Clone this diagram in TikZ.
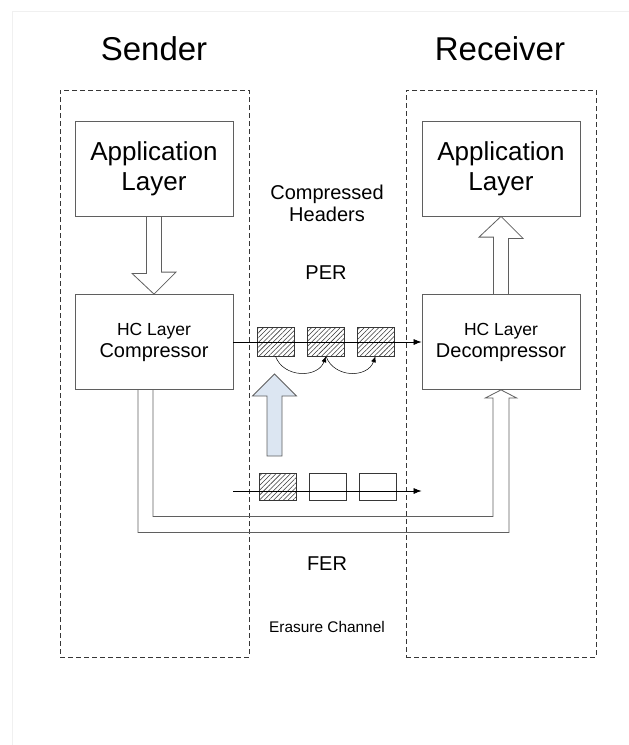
\documentclass[tikz,border=0pt]{standalone}
\usepackage{fontspec}
\setmainfont{Liberation Sans}
\usetikzlibrary{arrows.meta,patterns.meta,positioning}

\definecolor{boxgray}{RGB}{95,95,95}
\definecolor{dashgray}{RGB}{55,55,55}
\definecolor{paleblue}{RGB}{220,230,242}

\begin{document}
\begin{tikzpicture}[x=1pt, y=-1pt,
  layer/.style = {draw = boxgray, line width = 0.8pt, shape = rectangle, minimum width = 158pt, minimum height = 95pt, align = center},
  chan/.style = {draw = dashgray, line width = 0.7pt, dash pattern = on 5pt off 3pt, minimum height = 567pt},
  pkt/.style = {draw = dashgray, line width = 0.6pt, minimum width = 37pt, minimum height = 29pt, inner sep = 0pt},
  hatch/.style = {pattern = {Lines[angle=45, distance=3.4pt, line width=0.55pt]}, pattern color = dashgray},
  blockarr/.style = {draw = boxgray, line width = 0.8pt, line join = miter},
  flow/.style = {-{Latex[length=8pt, width=6pt]}, line width = 0.7pt}]
\useasboundingbox (0,0) rectangle (629,745);
\draw[gray!12] (12,745) -- (12,11) -- (629,11);

% sender and receiver sides
\node[chan, minimum width = 189pt] (sside) at (154.5,373.5) {};
\node[chan, minimum width = 190pt] (rside) at (501,373.5) {};
\node[anchor = base, font = \fontsize{33}{36}\selectfont] (sender) at (154,60) {Sender};
\node[anchor = base, font = \fontsize{33}{36}\selectfont] (receiver) at (500,60) {Receiver};

% layers
\node[layer, font = \fontsize{26}{30}\selectfont] (sapp) at (154,168.5) {Application\\Layer};
\node[layer, font = \fontsize{26}{30}\selectfont] (rapp) at (501,168.5) {Application\\Layer};
\node[layer, font = \fontsize{20}{22}\selectfont] (comp) at (154,342) {{\fontsize{17.5}{20}\selectfont HC Layer}\\Compressor};
\node[layer, font = \fontsize{20}{22}\selectfont] (decomp) at (501,342) {{\fontsize{17.5}{20}\selectfont HC Layer}\\Decompressor};

% channel labels
\node[align = center, font = \fontsize{20}{22}\selectfont] (hdrs) at (327,203) {Compressed\\Headers};
\node[anchor = base, font = \fontsize{20}{22}\selectfont] (per) at (326,279) {PER};
\node[anchor = base, font = \fontsize{20}{22}\selectfont] (fer) at (327,570) {FER};
\node[anchor = base, font = \fontsize{15.4}{18}\selectfont] (erasure) at (327,632) {Erasure Channel};

% packets
\node[pkt, hatch] (p1) at (275.5,341.5) {};
\node[pkt, hatch] (p2) at (326,341.5) {};
\node[pkt, hatch] (p3) at (375.5,341.5) {};
\node[pkt, hatch, minimum height = 27pt] (f1) at (277.5,486.5) {};
\node[pkt, minimum height = 27pt] (f2) at (327.5,486.5) {};
\node[pkt, minimum height = 27pt] (f3) at (377.5,486.5) {};

\draw[flow] (comp.east) -- (decomp.west);
\coordinate (ferin) at (comp.east |- 0,491);
\coordinate (ferout) at (decomp.west |- 0,491);
\draw[flow] (ferin) -- (ferout);

\draw[-{Latex[length=6pt, width=5pt]}, line width = 0.5pt] (p1.south) .. controls +(8,22) and +(-8,22) .. (p2.south);
\draw[-{Latex[length=6pt, width=5pt]}, line width = 0.5pt] (p2.south) .. controls +(8,22) and +(-8,22) .. (p3.south);

% block arrows
\draw[blockarr] ([xshift=-7.5pt]sapp.south) -- ++(0,57) -- ++(-14.5,0) -- (comp.north) -- ++(22,-22) -- ++(-14.5,0) -- ([xshift=7.5pt]sapp.south);
\draw[blockarr] ([xshift=-7.5pt]decomp.north) -- ++(0,-57) -- ++(-14.5,0) -- (rapp.south) -- ++(22,22) -- ++(-14.5,0) -- ([xshift=7.5pt]decomp.north);
\coordinate (uptip) at (274.5,374);
\draw[blockarr, fill = paleblue] (uptip) -- ++(22,22) -- ++(-14.5,0) -- ++(0,60) -- ++(-15,0) -- ++(0,-60) -- ++(-14.5,0) -- cycle;
\draw[blockarr] ([xshift=-16pt]comp.south) -- ++(0,142.5) -- ++(371,0) -- ++(0,-134.5) -- ++(7.5,0) -- (decomp.south) -- ++(-15.5,8) -- ++(7.5,0) -- ++(0,118.5) -- ++(-340,0) -- ++(0,-126.5);
\end{tikzpicture}
\end{document}
